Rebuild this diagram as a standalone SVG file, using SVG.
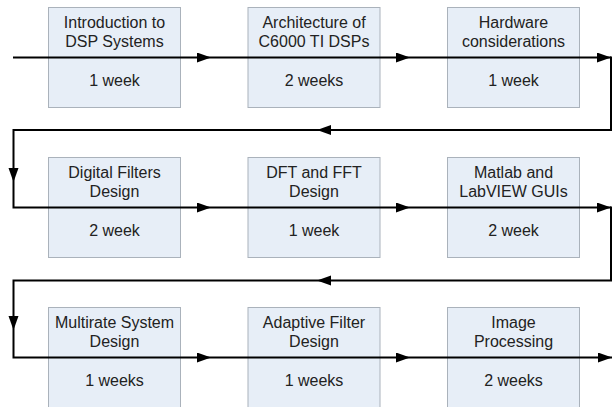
<svg xmlns="http://www.w3.org/2000/svg" width="613" height="407" viewBox="0 0 613 407">
<style>
.box{fill:#e7eef7;stroke:#aab2bb;stroke-width:1}
.t{font-family:"Liberation Sans",Arial,sans-serif;font-size:16px;fill:#222;text-anchor:middle}
.c{fill:none;stroke:#000;stroke-width:2}
</style>
<defs>
<marker id="ah" markerUnits="userSpaceOnUse" markerWidth="15" markerHeight="11" refX="14" refY="5" orient="auto">
<path d="M0,0 L14,5 L0,10 z" fill="#000"/>
</marker>
</defs>
<rect width="613" height="407" fill="#fff"/>
<g id="n1"><rect class="box" x="48.5" y="7.5" width="132" height="100"/><text class="t" x="114.5" y="27.5">Introduction to</text><text class="t" x="114.5" y="46.8">DSP Systems</text><text class="t" x="114.5" y="86">1 week</text></g>
<g id="n2"><rect class="box" x="248" y="7.5" width="132" height="100"/><text class="t" x="314" y="27.5">Architecture of</text><text class="t" x="314" y="46.8">C6000 TI DSPs</text><text class="t" x="314" y="86">2 weeks</text></g>
<g id="n3"><rect class="box" x="447.5" y="7.5" width="132" height="100"/><text class="t" x="513.5" y="27.5">Hardware</text><text class="t" x="513.5" y="46.8">considerations</text><text class="t" x="513.5" y="86">1 week</text></g>
<g id="n4"><rect class="box" x="48.5" y="157.5" width="132" height="100"/><text class="t" x="114.5" y="177.5">Digital Filters</text><text class="t" x="114.5" y="196.8">Design</text><text class="t" x="114.5" y="236">2 week</text></g>
<g id="n5"><rect class="box" x="248" y="157.5" width="132" height="100"/><text class="t" x="314" y="177.5">DFT and FFT</text><text class="t" x="314" y="196.8">Design</text><text class="t" x="314" y="236">1 week</text></g>
<g id="n6"><rect class="box" x="447.5" y="157.5" width="132" height="100"/><text class="t" x="513.5" y="177.5">Matlab and</text><text class="t" x="513.5" y="196.8">LabVIEW GUIs</text><text class="t" x="513.5" y="236">2 week</text></g>
<g id="n7"><rect class="box" x="48.5" y="307.5" width="132" height="100"/><text class="t" x="114.5" y="327.5">Multirate System</text><text class="t" x="114.5" y="346.8">Design</text><text class="t" x="114.5" y="386">1 weeks</text></g>
<g id="n8"><rect class="box" x="248" y="307.5" width="132" height="100"/><text class="t" x="314" y="327.5">Adaptive Filter</text><text class="t" x="314" y="346.8">Design</text><text class="t" x="314" y="386">1 weeks</text></g>
<g id="n9"><rect class="box" x="447.5" y="307.5" width="132" height="100"/><text class="t" x="513.5" y="327.5">Image</text><text class="t" x="513.5" y="346.8">Processing</text><text class="t" x="513.5" y="386">2 weeks</text></g>
<g id="connectors">
<path class="c" d="M13,57.5 H211" marker-end="url(#ah)"/>
<path class="c" d="M211,57.5 H410" marker-end="url(#ah)"/>
<path class="c" d="M410,57.5 H611" marker-end="url(#ah)"/>
<path class="c" d="M611,56.5 V130 H317" marker-end="url(#ah)"/>
<path class="c" d="M317,130 H13.5 V182" marker-end="url(#ah)"/>
<path class="c" d="M13.5,182 V207.5 H211" marker-end="url(#ah)"/>
<path class="c" d="M211,207.5 H410" marker-end="url(#ah)"/>
<path class="c" d="M410,207.5 H611" marker-end="url(#ah)"/>
<path class="c" d="M611,206.5 V280.5 H317" marker-end="url(#ah)"/>
<path class="c" d="M317,280.5 H13.5 V330" marker-end="url(#ah)"/>
<path class="c" d="M13.5,330 V357.5 H211" marker-end="url(#ah)"/>
<path class="c" d="M211,357.5 H410" marker-end="url(#ah)"/>
<path class="c" d="M410,357.5 H612" marker-end="url(#ah)"/>
</g>
</svg>
